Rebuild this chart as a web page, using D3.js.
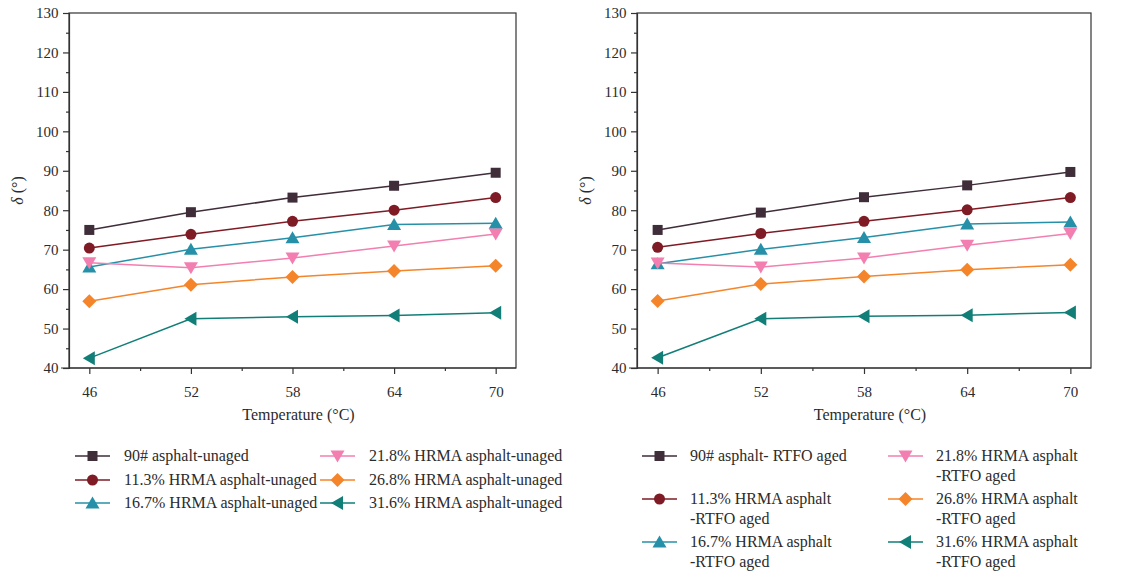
<!DOCTYPE html>
<html>
<head>
<meta charset="utf-8">
<script src="https://cdn.jsdelivr.net/npm/d3@7"></script>
<style>
body { margin: 0; background: #fff; }
text { font-family: "Liberation Serif", "DejaVu Serif", serif; fill: #2b2b2b; }
</style>
</head>
<body>
<script>
var temps = [46, 52, 58, 64, 70];
var yTicks = [40, 50, 60, 70, 80, 90, 100, 110, 120, 130];

var colors = ["#3f2d3a", "#7e1b24", "#2690a8", "#f27fb0", "#f5852a", "#117e78"];
var shapes = ["square", "circle", "triUp", "triDown", "diamond", "triLeft"];

// unaged
var unaged90 = [75.0, 79.5, 83.2, 86.2, 89.5];
var unaged113 = [70.4, 73.9, 77.2, 80.0, 83.2];
var unaged167 = [65.6, 70.1, 73.0, 76.4, 76.7];
var unaged218 = [66.7, 65.4, 67.9, 70.9, 74.0];
var unaged268 = [56.9, 61.1, 63.1, 64.6, 65.9];
var unaged316 = [42.5, 52.5, 53.0, 53.3, 54.0];

// RTFO aged
var aged90 = [75.0, 79.4, 83.3, 86.3, 89.7];
var aged113 = [70.6, 74.1, 77.2, 80.1, 83.2];
var aged167 = [66.4, 70.1, 73.1, 76.5, 77.0];
var aged218 = [66.6, 65.6, 67.9, 71.1, 74.1];
var aged268 = [57.0, 61.3, 63.2, 64.9, 66.2];
var aged316 = [42.6, 52.5, 53.1, 53.4, 54.1];

var unagedLabels = [
    ["90# asphalt-unaged"], ["11.3% HRMA asphalt-unaged"], ["16.7% HRMA asphalt-unaged"],
    ["21.8% HRMA asphalt-unaged"], ["26.8% HRMA asphalt-unaged"], ["31.6% HRMA asphalt-unaged"]
];
var agedLabels = [
    ["90# asphalt- RTFO aged"], ["11.3% HRMA asphalt", "-RTFO aged"], ["16.7% HRMA asphalt", "-RTFO aged"],
    ["21.8% HRMA asphalt", "-RTFO aged"], ["26.8% HRMA asphalt", "-RTFO aged"], ["31.6% HRMA asphalt", "-RTFO aged"]
];

var svg = d3.select('body')
    .append('svg')
    .attr('width', 1130)
    .attr('height', 576);

function markerPath(shape) {
    if (shape === "square") return "M-5,-5H5V5H-5Z";
    if (shape === "circle") return d3.symbol(d3.symbolCircle, 95)();
    if (shape === "triUp") return "M0,-6.5L7,5.5L-7,5.5Z";
    if (shape === "triDown") return "M0,6.5L7,-5.5L-7,-5.5Z";
    if (shape === "diamond") return "M0,-7L7,0L0,7L-7,0Z";
    if (shape === "triLeft") return "M-6.5,0L5.5,-7L5.5,7Z";
}

function drawPanel(box, series, labels, legendCfg) {
    var g = svg.append("g");
    var x = d3.scaleLinear().domain([44.8, 71.2]).range([box.left, box.right]);
    var y = d3.scaleLinear().domain([40, 130]).range([box.bottom, box.top]);

    // frame
    g.append("rect")
        .attr("x", box.left).attr("y", box.top)
        .attr("width", box.right - box.left).attr("height", box.bottom - box.top)
        .attr("fill", "none").attr("stroke", "#333").attr("stroke-width", 1.2);

    // x axis
    var xAxis = g.append("g").attr("transform", "translate(0," + box.bottom + ")")
        .call(d3.axisBottom(x).tickValues(temps).tickSize(6).tickFormat(d3.format("d")));
    var xMinor = g.append("g").attr("transform", "translate(0," + box.bottom + ")")
        .call(d3.axisBottom(x).tickValues([49, 55, 61, 67]).tickSize(3).tickFormat(""));
    xMinor.select(".domain").remove();
    xAxis.select(".domain").attr("d", "M" + (box.left - 8) + ",0H" + box.right);

    var yAxis = g.append("g").attr("transform", "translate(" + box.left + ",0)")
        .call(d3.axisLeft(y).tickValues(yTicks).tickSize(6).tickFormat(d3.format("d")));
    var yMinor = g.append("g").attr("transform", "translate(" + box.left + ",0)")
        .call(d3.axisLeft(y).tickValues(d3.range(45, 130, 10)).tickSize(3).tickFormat(""));
    yMinor.select(".domain").remove();

    g.selectAll(".tick line").attr("stroke", "#333").attr("stroke-width", 1.2);
    g.selectAll(".domain").attr("stroke", "#333").attr("stroke-width", 1.2);
    xAxis.selectAll("text").attr("dy", "1.3em").style("font-size", "15px").style("font-family", "Liberation Serif").attr("fill", "#2b2b2b");
    yAxis.selectAll("text").attr("dx", "-0.1em").style("font-size", "15px").style("font-family", "Liberation Serif").attr("fill", "#2b2b2b");

    // axis titles
    g.append("text")
        .attr("x", (box.left + box.right) / 2 + 6).attr("y", box.bottom + 52)
        .attr("text-anchor", "middle").style("font-size", "16px")
        .text("Temperature (°C)");
    var yt = g.append("text")
        .attr("transform", "translate(" + (box.left - 46) + "," + ((box.top + box.bottom) / 2) + ") rotate(-90)")
        .attr("text-anchor", "middle").style("font-size", "16px");
    yt.append("tspan").style("font-style", "italic").text("δ");
    yt.append("tspan").text(" (°)");

    var line = d3.line()
        .x(function (d, i) { return x(temps[i]); })
        .y(function (d) { return y(d); });

    for (var s = 0; s < series.length; ++s) {
        g.append("path")
            .datum(series[s])
            .attr("d", line)
            .attr("fill", "none")
            .attr("stroke", colors[s])
            .attr("stroke-width", 1.5);
    }
    for (var s2 = 0; s2 < series.length; ++s2) {
        g.selectAll(null)
            .data(series[s2])
            .enter()
            .append("path")
            .attr("transform", function (d, i) { return "translate(" + x(temps[i]) + "," + y(d) + ")"; })
            .attr("d", markerPath(shapes[s2]))
            .attr("fill", colors[s2]);
    }

    // legend
    for (var k = 0; k < labels.length; ++k) {
        var col = Math.floor(k / 3), row = k % 3;
        var lx = legendCfg.colX[col];
        var ly = legendCfg.rowY[row];
        g.append("line")
            .attr("x1", lx).attr("x2", lx + 35)
            .attr("y1", ly).attr("y2", ly)
            .attr("stroke", colors[k]).attr("stroke-width", 1.5);
        g.append("path")
            .attr("transform", "translate(" + (lx + 17.5) + "," + ly + ")")
            .attr("d", markerPath(shapes[k]))
            .attr("fill", colors[k]);
        var t = g.append("text")
            .attr("x", lx + legendCfg.textGap)
            .attr("y", ly + 5)
            .style("font-size", "16px");
        for (var m = 0; m < labels[k].length; ++m) {
            t.append("tspan")
                .attr("x", lx + legendCfg.textGap)
                .attr("dy", m === 0 ? 0 : 20)
                .text(labels[k][m]);
        }
    }
}

drawPanel({ left: 69, right: 516, top: 13, bottom: 368 },
    [unaged90, unaged113, unaged167, unaged218, unaged268, unaged316],
    unagedLabels,
    { colX: [75, 320], rowY: [456, 480, 503], textGap: 49 });

drawPanel({ left: 637, right: 1091, top: 13, bottom: 368 },
    [aged90, aged113, aged167, aged218, aged268, aged316],
    agedLabels,
    { colX: [642, 888], rowY: [456, 499, 542], textGap: 48 });
</script>
</body>
</html>
